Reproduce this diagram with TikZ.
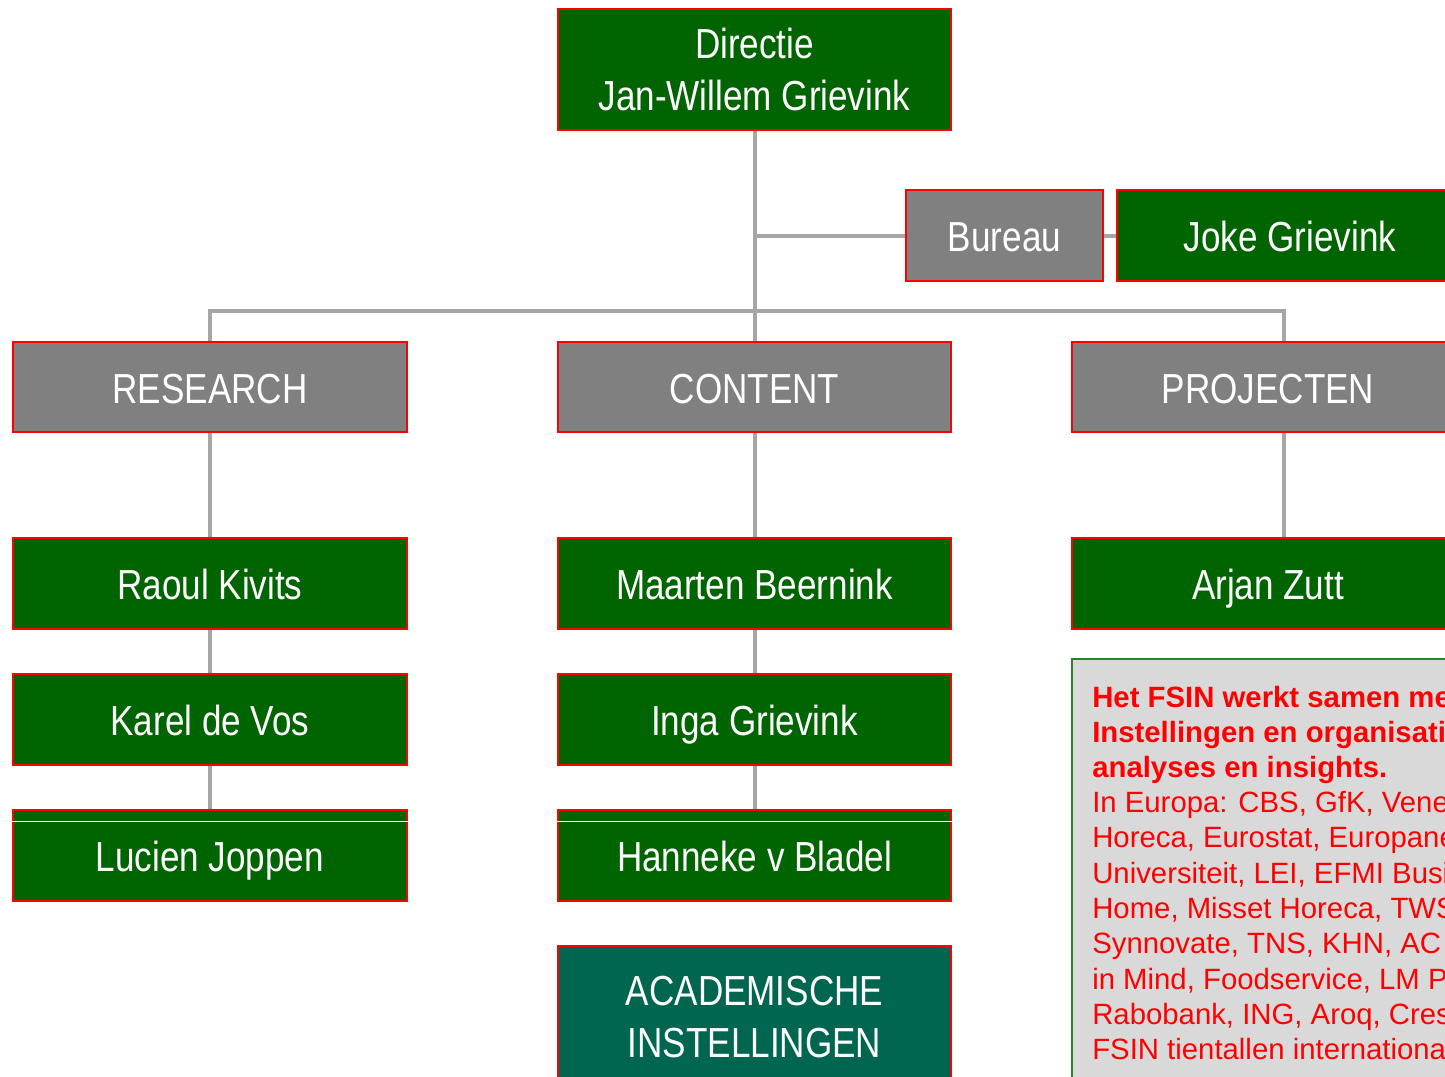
\documentclass[tikz,border=0pt]{standalone}
\usepackage{fontspec}
\setmainfont{Liberation Sans}
\newfontfamily\narrowfont[FakeStretch=0.835]{Liberation Sans}
\usetikzlibrary{backgrounds}
\definecolor{dgreen}{RGB}{0,100,0}
\definecolor{mgray}{RGB}{128,128,128}
\definecolor{lgray}{RGB}{166,166,166}
\definecolor{acadgreen}{RGB}{0,102,80}
\definecolor{infofill}{RGB}{217,217,217}
\definecolor{infoline}{RGB}{40,130,40}
\definecolor{pred}{RGB}{255,0,0}
\def\pxu{0.75pt}
\tikzset{
  orgbox/.style={draw=pred, line width=1.2pt, text=white, inner sep=0pt,
    font={\narrowfont\fontsize{31.5}{39}\selectfont}, align=center},
  oneline/.style={text height=24pt, text depth=0pt},
  greenbox/.style={orgbox, fill=dgreen},
  graybox/.style={orgbox, fill=mgray},
  conn/.style={draw=lgray, line width=3pt},
  infotext/.style={anchor=base west, inner sep=0pt, text=pred, font={\fontsize{22}{26}\selectfont}},
  infobold/.style={infotext, font={\bfseries\fontsize{22}{26}\selectfont}}
}
\begin{document}
\begin{tikzpicture}[x=0.75pt,y=-0.75pt]
\useasboundingbox (0,0) rectangle (1445,1077);
\clip (0,0) rectangle (1445,1077);
% boxes
\node[greenbox, minimum width=393*\pxu, minimum height=121*\pxu] (dir) at (754.5,69.5) {Directie\\Jan-Willem Grievink};
\node[graybox, oneline, minimum width=197*\pxu, minimum height=91*\pxu] (bur) at (1004.5,235.5) {Bureau};
\node[greenbox, oneline, minimum width=346*\pxu, minimum height=91*\pxu] (joke) at (1290,235.5) {Joke Grievink};
\node[graybox, oneline, minimum width=394*\pxu, minimum height=90*\pxu] (res) at (210,387) {RESEARCH};
\node[graybox, oneline, minimum width=393*\pxu, minimum height=90*\pxu] (con) at (754.5,387) {CONTENT};
\node[graybox, oneline, minimum width=392*\pxu, minimum height=90*\pxu] (proj) at (1268,387) {PROJECTEN};
\node[greenbox, oneline, minimum width=394*\pxu, minimum height=91*\pxu] (raoul) at (210,583.5) {Raoul Kivits};
\node[greenbox, oneline, minimum width=393*\pxu, minimum height=91*\pxu] (maarten) at (754.5,583.5) {Maarten Beernink};
\node[greenbox, oneline, minimum width=392*\pxu, minimum height=91*\pxu] (arjan) at (1268,583.5) {Arjan Zutt};
\node[greenbox, oneline, minimum width=394*\pxu, minimum height=91*\pxu] (karel) at (210,719.5) {Karel de Vos};
\node[greenbox, oneline, minimum width=393*\pxu, minimum height=91*\pxu] (inga) at (754.5,719.5) {Inga Grievink};
\node[greenbox, oneline, minimum width=394*\pxu, minimum height=91*\pxu] (lucien) at (210,855.5) {Lucien Joppen};
\node[greenbox, oneline, minimum width=393*\pxu, minimum height=91*\pxu] (hanneke) at (754.5,855.5) {Hanneke v Bladel};
\node[orgbox, fill=acadgreen, minimum width=393*\pxu, minimum height=142*\pxu] (acad) at (754.5,1017) {ACADEMISCHE\\INSTELLINGEN};
% white rules inside two boxes
\draw[white, line width=0.8pt] ([yshift=-12*\pxu]lucien.north west) -- ([yshift=-12*\pxu]lucien.north east);
\draw[white, line width=0.8pt] ([yshift=-12*\pxu]hanneke.north west) -- ([yshift=-12*\pxu]hanneke.north east);
% info box
\node[draw=infoline, line width=1.2pt, fill=infofill, minimum width=392*\pxu, minimum height=440*\pxu, inner sep=0pt] (info) at (1268,879) {};
\node[infobold] (i1) at (1092,707) {Het FSIN werkt samen me};
\node[infobold] (i2) at (1092,742) {Instellingen en organisati};
\node[infobold] (i3) at (1092,777) {analyses en insights.};
\node[infotext] (i4) at (1092,812) {In Europa: CBS, GfK, Vene};
\node[infotext] (i5) at (1092,847) {Horeca, Eurostat, Europane};
\node[infotext] (i6) at (1092,883) {Universiteit, LEI, EFMI Busi};
\node[infotext] (i7) at (1092,918) {Home, Misset Horeca, TWS};
\node[infotext] (i8) at (1092,953) {Synnovate, TNS, KHN, AC};
\node[infotext] (i9) at (1092,989) {in Mind, Foodservice, LM P};
\node[infotext] (i10) at (1092,1024) {Rabobank, ING, Aroq, Cres};
\node[infotext] (i11) at (1092,1059) {FSIN tientallen internationa};
% connectors
\coordinate (jb) at (754.5,235.5);
\coordinate (bus) at (754.5,311);
\coordinate (pjtop) at (1284,342);
\coordinate (pjbot) at (1284,432);
\coordinate (ajtop) at (1284,538);
\begin{scope}[on background layer]
\draw[conn] (dir.south) -- (con.north);
\draw[conn] (jb) -- (bur.west);
\draw[conn] (bur.east) -- (joke.west);
\draw[conn] (res.north) |- (bus) -| (pjtop);
\draw[conn] (res.south) -- (raoul.north);
\draw[conn] (raoul.south) -- (karel.north);
\draw[conn] (karel.south) -- (lucien.north);
\draw[conn] (con.south) -- (maarten.north);
\draw[conn] (maarten.south) -- (inga.north);
\draw[conn] (inga.south) -- (hanneke.north);
\draw[conn] (pjbot) -- (ajtop);
\end{scope}
\end{tikzpicture}
\end{document}
